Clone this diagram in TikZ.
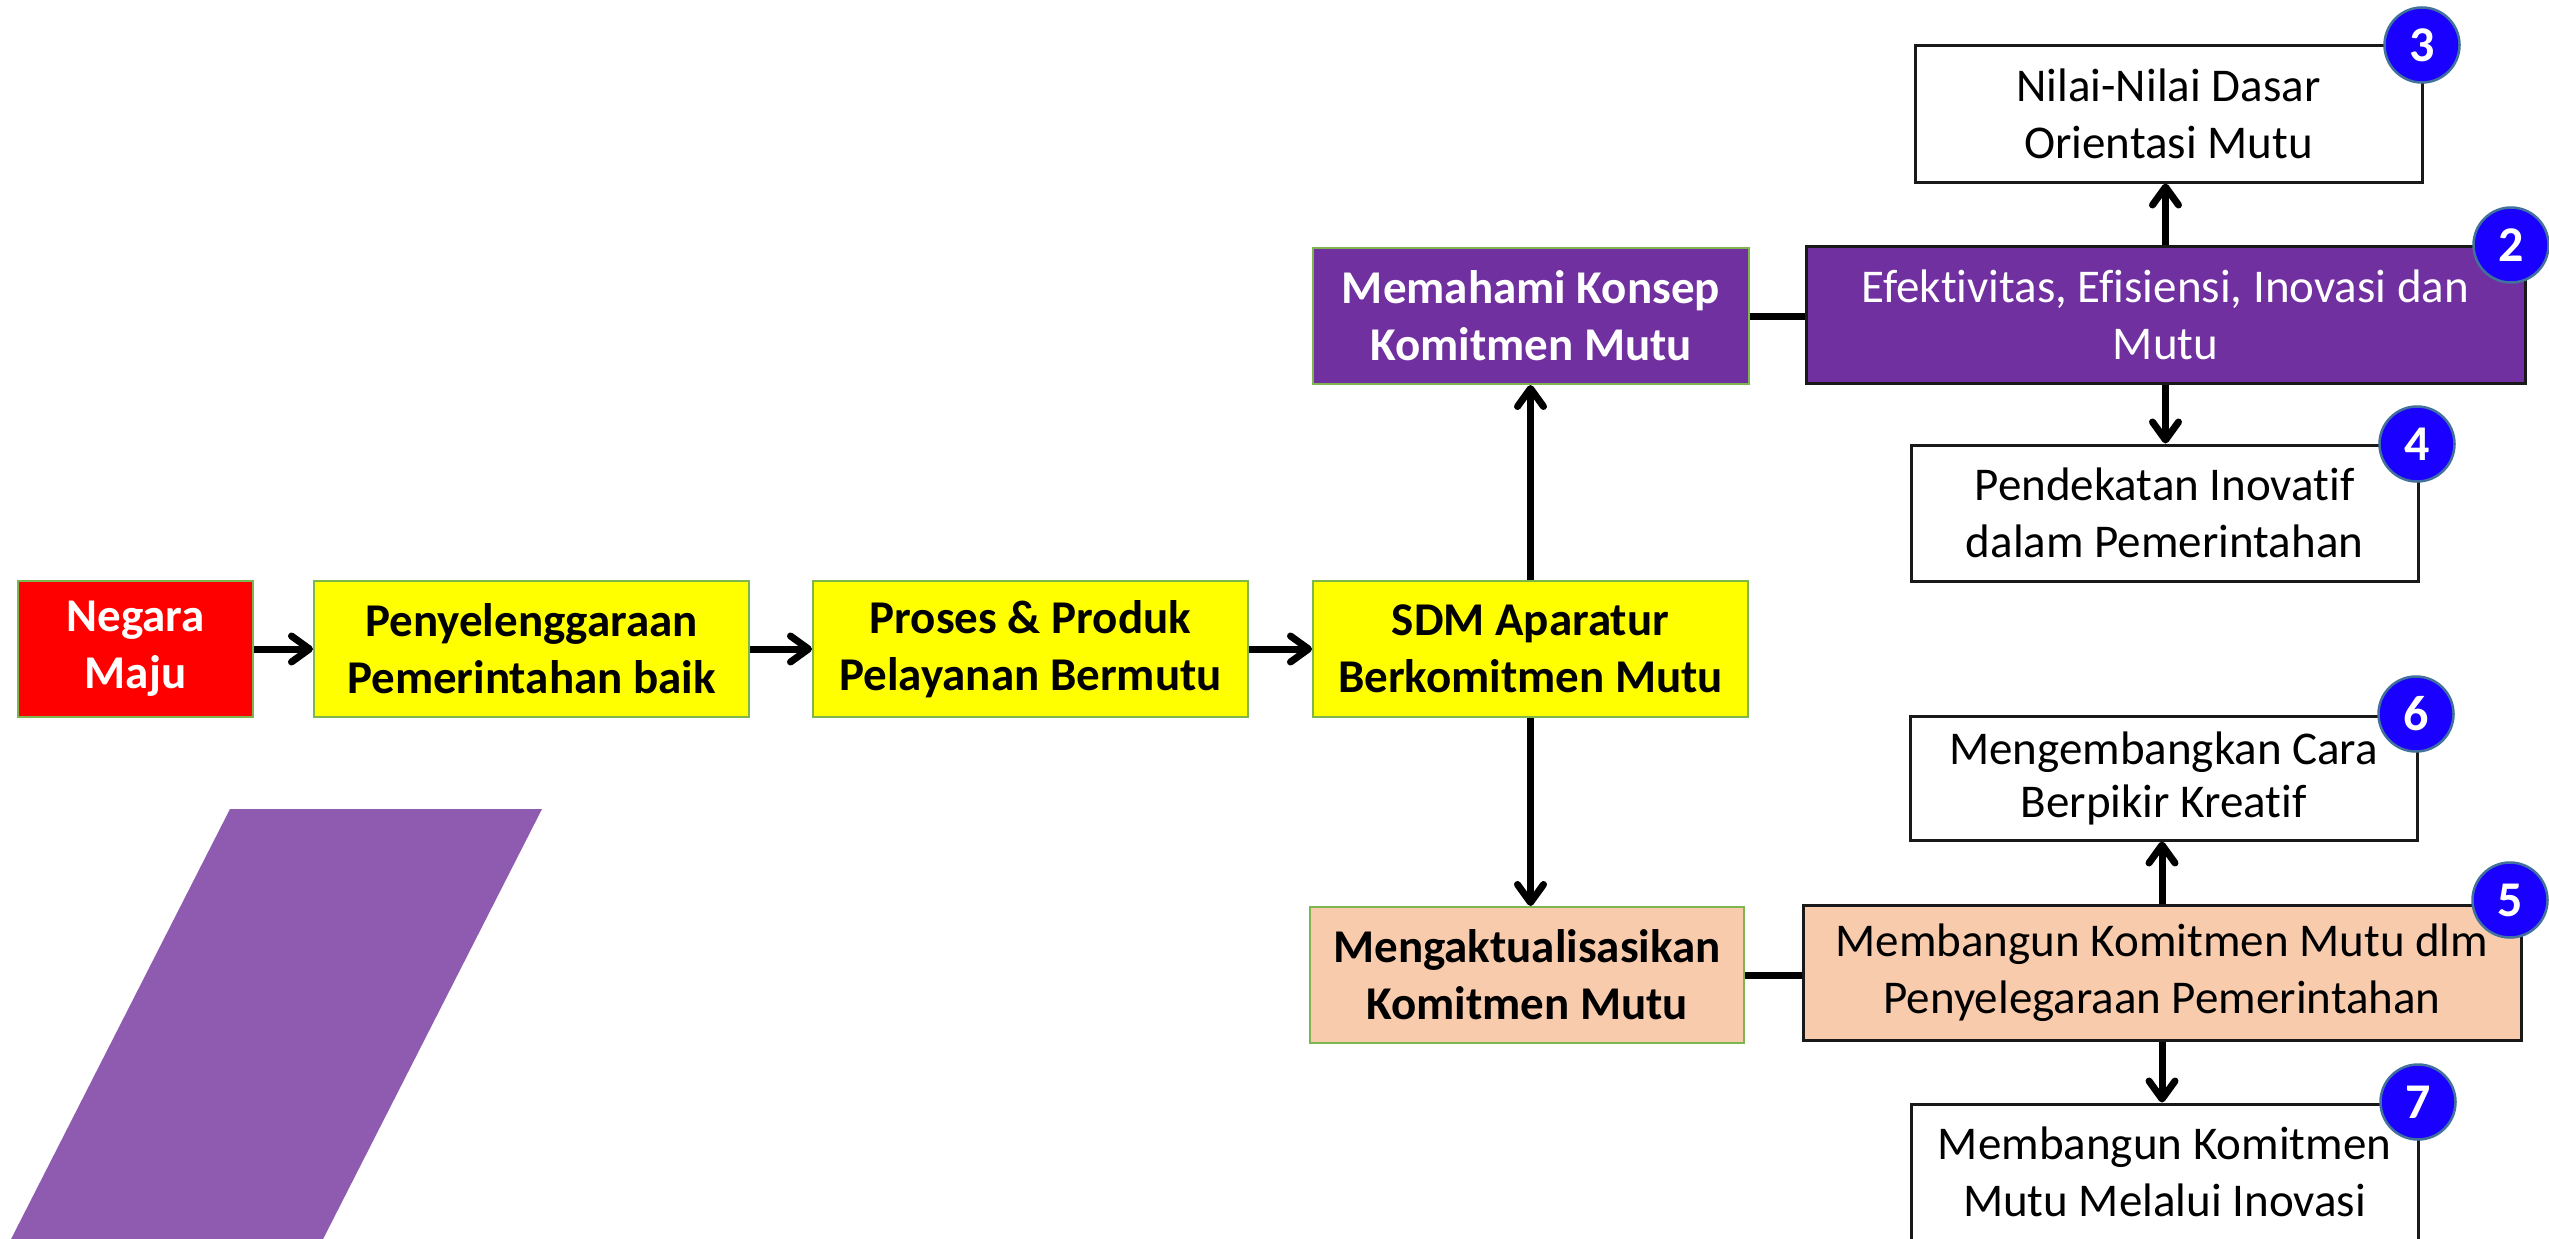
\documentclass[tikz,border=0pt]{standalone}
\usepackage{fontspec}
\setmainfont[Ligatures=NoCommon]{Carlito}
\usetikzlibrary{arrows.meta}
\definecolor{cred}{HTML}{FF0000}
\definecolor{cyellow}{HTML}{FFFF00}
\definecolor{cpurple}{HTML}{7030A0}
\definecolor{cpeach}{HTML}{F8CBAD}
\definecolor{cgreen}{HTML}{7DB64E}
\definecolor{cpara}{HTML}{8E5BB1}
\definecolor{cbadge}{HTML}{1A00FF}
\definecolor{cbadgeb}{HTML}{41719C}
\begin{document}
\begin{tikzpicture}[x=1pt,y=-1pt,
  mainbox/.style={draw=cgreen, line width=2pt, inner sep=0pt, align=center,
    font=\fontsize{47}{57}\selectfont\bfseries},
  sidebox/.style={draw=black!90, line width=3pt, inner sep=0pt, align=center,
    font=\fontsize{47}{57}\selectfont},
  badge/.style={circle, fill=cbadge, draw=cbadgeb, line width=2.5pt, minimum size=75pt,
    inner sep=0pt, text=white, font=\fontsize{50}{50}\selectfont\bfseries},
  arr/.style={line width=7pt, -{Straight Barb[length=18pt,width=26pt,round]}},
  conn/.style={line width=7pt}]
\useasboundingbox (0,0) rectangle (2549,1239);
\clip (0,0) rectangle (2549,1239);
\fill[white] (0,0) rectangle (2549,1239);

% parallelogram
\fill[cpara] (230,809) -- (542,809) -- (289,1306) -- (-23,1306) -- cycle;

% main row
\node[mainbox, fill=cred, text=white, minimum width=235pt, minimum height=136pt] (neg) at (135.5,649) {Negara\\Maju};
\node[mainbox, fill=cyellow, minimum width=435pt, minimum height=136pt] (pen) at (531.5,649) {Penyelenggaraan\\Pemerintahan baik};
\node[mainbox, fill=cyellow, minimum width=435pt, minimum height=136pt] (pro) at (1030.5,649) {Proses \& Produk\\Pelayanan Bermutu};
\node[mainbox, fill=cyellow, minimum width=435pt, minimum height=136pt] (sdm) at (1530.5,649) {SDM Aparatur\\Berkomitmen Mutu};

% upper branch
\node[mainbox, fill=cpurple, text=white, minimum width=436pt, minimum height=136pt] (mem) at (1531,316) {Memahami Konsep\\Komitmen Mutu};
\node[sidebox, fill=cpurple, text=white, minimum width=719pt, minimum height=137pt] (efk) at (2165.5,314.5) {Efektivitas, Efisiensi, Inovasi dan\\Mutu};
\node[sidebox, fill=white, minimum width=507pt, minimum height=136pt] (nil) at (2168.5,114) {Nilai-Nilai Dasar\\Orientasi Mutu};
\node[sidebox, fill=white, minimum width=507pt, minimum height=136pt] (pdk) at (2164.5,513) {Pendekatan Inovatif\\dalam Pemerintahan};

% lower branch
\node[mainbox, fill=cpeach, minimum width=434pt, minimum height=136pt] (akt) at (1527,975) {Mengaktualisasikan\\Komitmen Mutu};
\node[sidebox, fill=cpeach, minimum width=718pt, minimum height=135pt] (mbg) at (2162,972.5) {Membangun Komitmen Mutu dlm\\Penyelegaraan Pemerintahan};
\node[sidebox, fill=white, minimum width=507pt, minimum height=124pt, font=\fontsize{47}{53}\selectfont] (mgb) at (2163.5,778) {Mengembangkan Cara\\Berpikir Kreatif};
\node[sidebox, fill=white, minimum width=507pt, minimum height=136pt] (mki) at (2164.5,1172) {Membangun Komitmen\\Mutu Melalui Inovasi};

% connectors
\draw[arr] (neg) -- (pen);
\draw[arr] (pen) -- (pro);
\draw[arr] (pro) -- (sdm);
\draw[arr] (sdm.north) -- (sdm.north |- mem.south);
\draw[arr] (sdm.south) -- (sdm.south |- akt.north);
\draw[conn] (mem.east) -- (mem.east -| efk.west);
\draw[conn] (akt.east) -- (akt.east -| mbg.west);
\draw[arr] (efk.north) -- (efk.north |- nil.south);
\draw[arr] (efk.south) -- (efk.south |- pdk.north);
\draw[arr] (mbg.north) -- (mbg.north |- mgb.south);
\draw[arr] (mbg.south) -- (mbg.south |- mki.north);

% badges
\node[badge] (b3) at (2422,45) {3};
\node[badge] (b2) at (2511,245) {2};
\node[badge] (b4) at (2417,444) {4};
\node[badge] (b6) at (2416,714) {6};
\node[badge] (b5) at (2510,900) {5};
\node[badge] (b7) at (2418,1102) {7};
\end{tikzpicture}
\end{document}
